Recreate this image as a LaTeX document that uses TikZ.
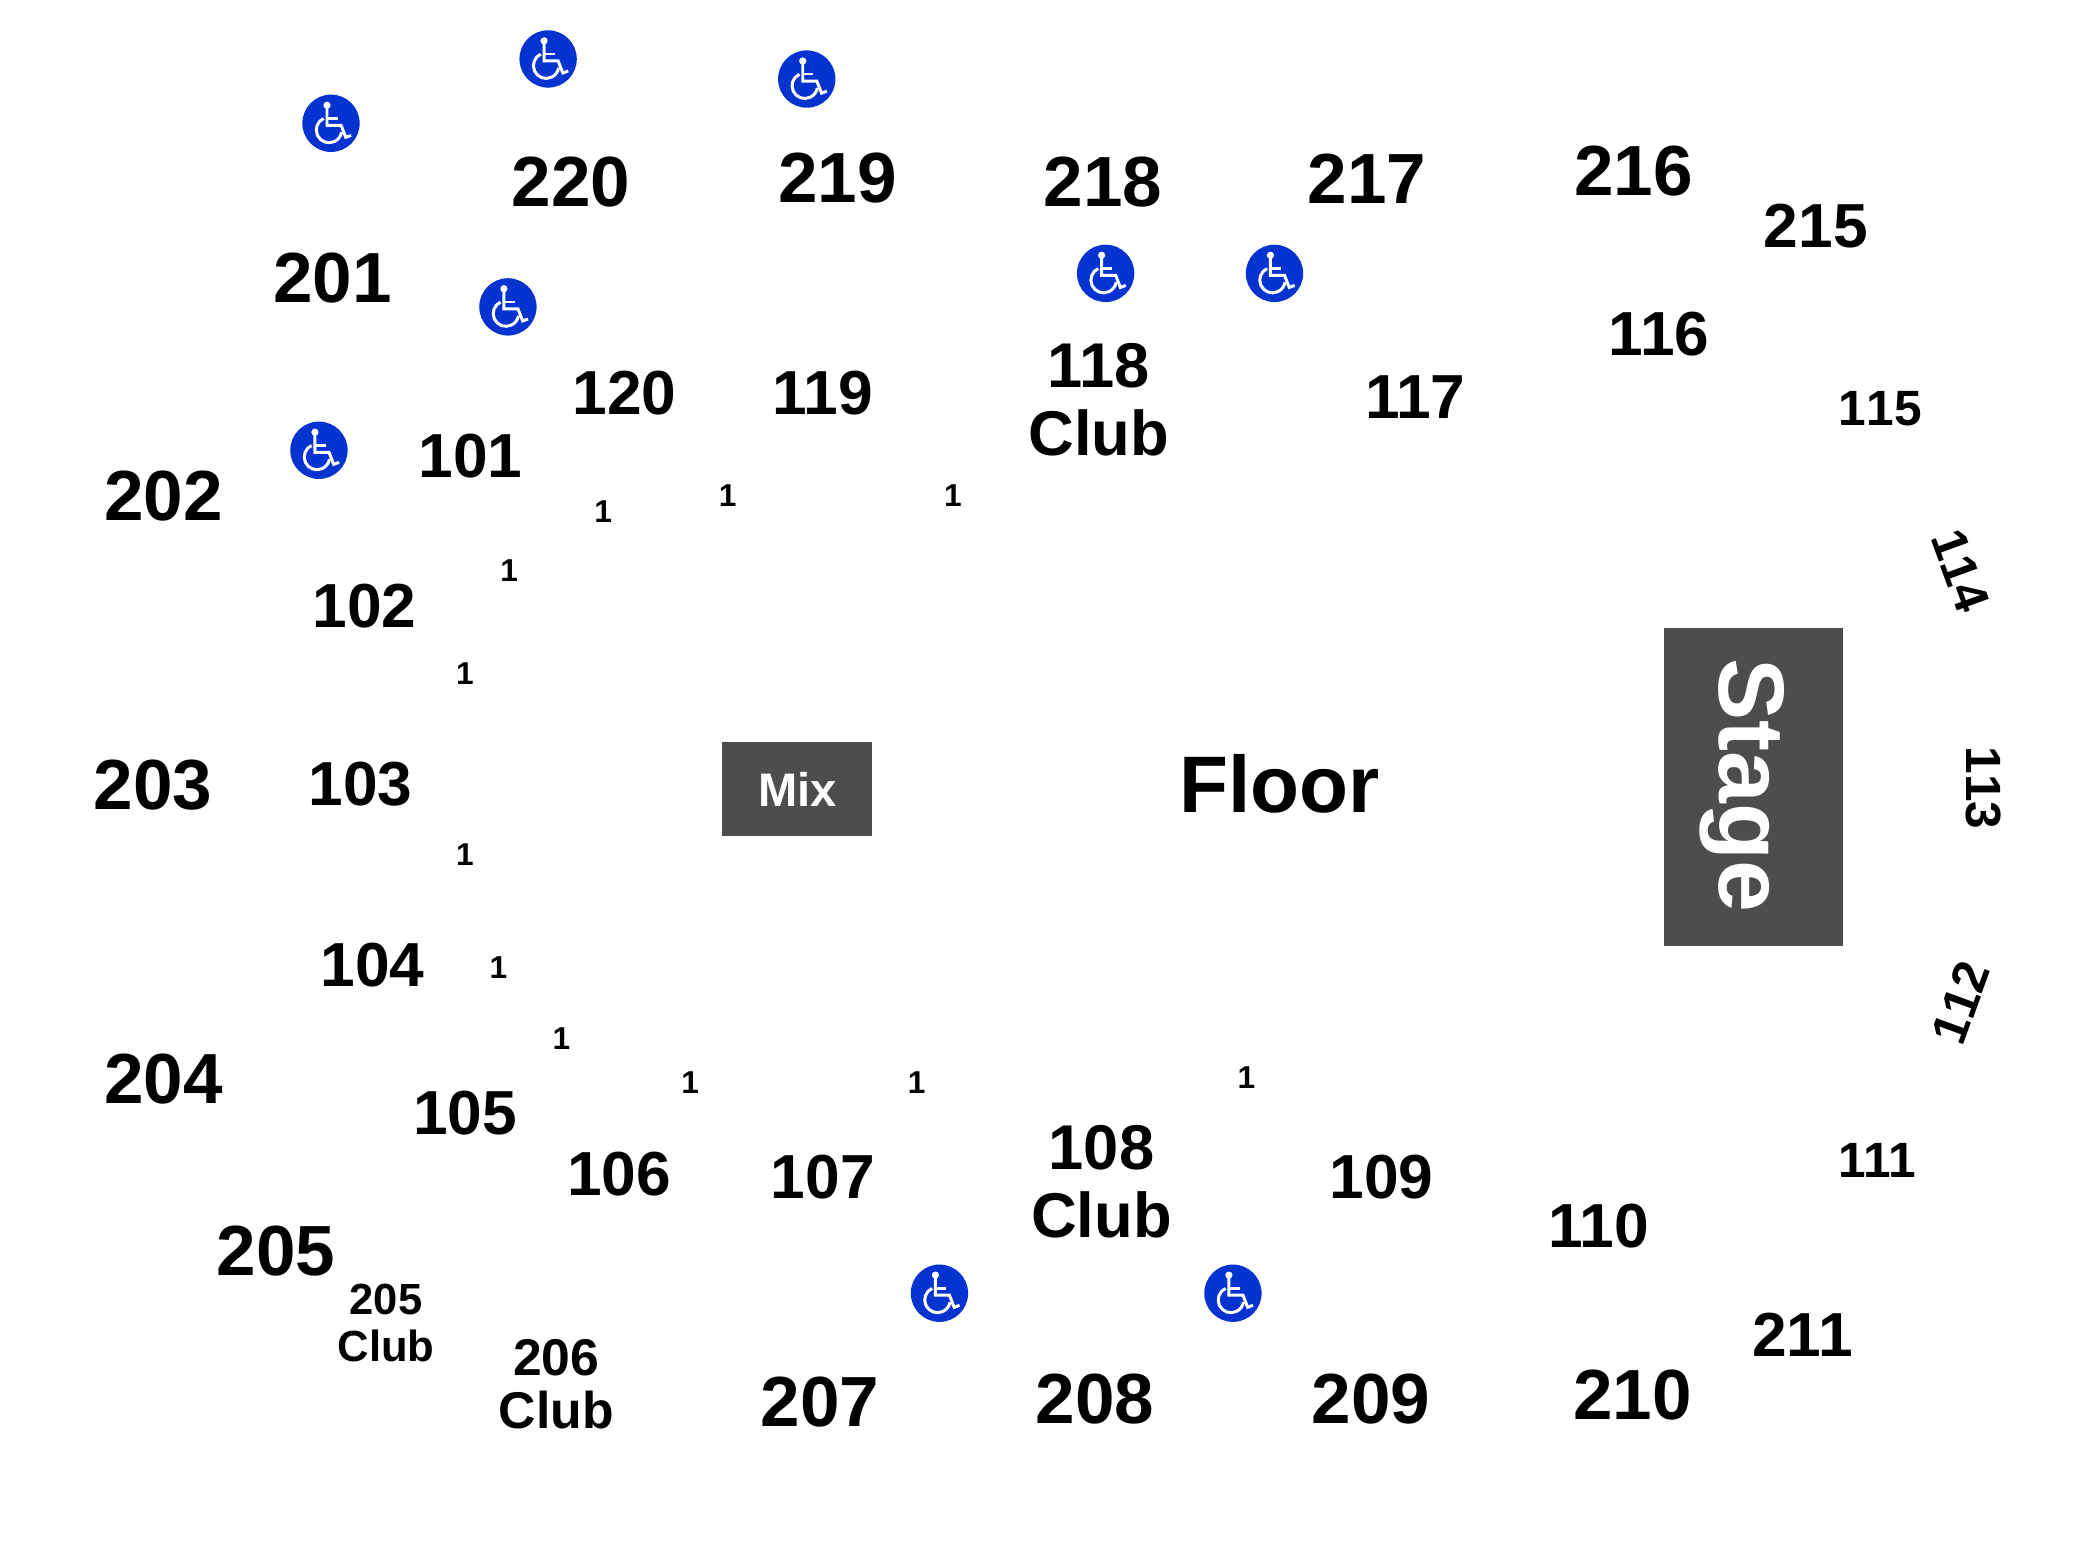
\documentclass[tikz,border=0pt]{standalone}
\usepackage{fontspec}
\setmainfont{Liberation Sans}
\newfontfamily\openfont[Kerning=Off]{Liberation Sans}
\definecolor{accessblue}{HTML}{0433CF}
\definecolor{boxgrey}{HTML}{4D4D4D}
\tikzset{
	access/.pic={
		\fill[accessblue] (0,0) circle (21.4);
		\fill[white] (-3,-13.5) circle (2.7);
		\draw[white,line width=.85pt] (-3,-13.5) -- (-3,1.5) -- (7.5,1.5) -- (11,10.5) -- (15,9);
		\draw[white,line width=.7pt] (-3,-3.7) -- (5,-3.7);
		\draw[white,line width=.85pt] (-5.5,-3.6) arc[start angle=-115,end angle=-350,radius=9.5];
	}
}
\begin{document}
\begin{tikzpicture}[x=0.0134cm,y=-0.0134cm]
	\useasboundingbox (0,0) rectangle (1567,1155.2);
	\tikzstyle{every node}=[inner sep=0,font=\bfseries,align=center]
	\tikzstyle{upper}=[font=\bfseries\fontsize{20.2}{24}\selectfont]
	\tikzstyle{lower}=[font=\bfseries\fontsize{17.7}{19.4}\selectfont]
	\tikzstyle{narrow}=[font=\openfont\bfseries\fontsize{14.1}{16}\selectfont]
	\tikzstyle{tiny}=[font=\bfseries\fontsize{9}{11}\selectfont]
	\node[upper] (s220) at (426,136) {220};
	\node[upper] (s219) at (625,133) {219};
	\node[upper] (s218) at (823,135.5) {218};
	\node[upper] (s217) at (1020,133.5) {217};
	\node[upper] (s216) at (1219,128) {216};
	\node[lower] (s215) at (1355,169) {215};
	\node[upper] (s201) at (248,207.5) {201};
	\node[upper] (s202) at (122,370) {202};
	\node[upper] (s203) at (114,586) {203};
	\node[upper] (s204) at (122,805) {204};
	\node[upper] (s205) at (206,933.5) {205};
	\node[upper] (s207) at (612,1046) {207};
	\node[upper] (s208) at (817,1044) {208};
	\node[upper] (s209) at (1023,1044) {209};
	\node[upper] (s210) at (1218,1041) {210};
	\node[lower] (s211) at (1345,996) {211};
	\node[font=\bfseries\fontsize{12.4}{13.4}\selectfont] (c205) at (288,987) {205\\Club};
	\node[font=\bfseries\fontsize{14.7}{14.9}\selectfont] (c206) at (415,1033) {206\\Club};
	\node[lower] (s120) at (466,293) {120};
	\node[lower] (s119) at (614,293) {119};
	\node[font=\bfseries\fontsize{18}{19.4}\selectfont] (c118) at (820,298) {118\\Club};
	\node[lower] (s117) at (1056,296) {117};
	\node[lower] (s116) at (1238,249) {116};
	\node[narrow] (s115) at (1403,305) {115};
	\node[narrow,rotate=-70] (s114) at (1463,426) {114};
	\node[narrow,rotate=-90] (s113) at (1480,588) {113};
	\node[narrow,rotate=70] (s112) at (1463,748) {112};
	\node[font=\bfseries\fontsize{14.1}{16}\selectfont] (s111) at (1401,866) {111};
	\node[lower] (s110) at (1193,915) {110};
	\node[lower] (s109) at (1031,878) {109};
	\node[font=\bfseries\fontsize{18}{19.4}\selectfont] (c108) at (822,882) {108\\Club};
	\node[lower] (s107) at (614,878) {107};
	\node[lower] (s106) at (462,876) {106};
	\node[lower] (s105) at (347,830.5) {105};
	\node[lower] (s104) at (278,720) {104};
	\node[lower] (s103) at (269,585) {103};
	\node[lower] (s102) at (272,452) {102};
	\node[lower] (s101) at (351,340) {101};
	\node[tiny] (r1) at (450,382) {1};
	\node[tiny] (r2) at (543,370) {1};
	\node[tiny] (r3) at (711,370) {1};
	\node[tiny] (r4) at (380,426) {1};
	\node[tiny] (r5) at (347,503) {1};
	\node[tiny] (r6) at (347,638) {1};
	\node[tiny] (r7) at (372,722) {1};
	\node[tiny] (r8) at (419,775) {1};
	\node[tiny] (r9) at (515,808) {1};
	\node[tiny] (r10) at (684,808) {1};
	\node[tiny] (r11) at (930,804) {1};
	\node[font=\bfseries\fontsize{13.4}{16}\selectfont,text=white,fill=boxgrey,minimum width=1.5cm,minimum height=.938cm] (mix) at (595,589) {Mix};
	\node[fill=boxgrey,minimum width=1.796cm,minimum height=3.176cm] (stage) at (1308.4,587.5) {};
	\node[font=\bfseries\fontsize{26.5}{30}\selectfont,text=white,rotate=-90] (stagetext) at (1300,586) {Stage};
	\node[font=\bfseries\fontsize{22.8}{26}\selectfont] (floor) at (955,585) {Floor};
	\pic (w1) at (247,92) {access};
	\pic (w2) at (409,44) {access};
	\pic (w3) at (602,59) {access};
	\pic (w4) at (825,204) {access};
	\pic (w5) at (951,204) {access};
	\pic (w6) at (379,229) {access};
	\pic (w7) at (238,336) {access};
	\pic (w8) at (701,965) {access};
	\pic (w9) at (920,965) {access};
\end{tikzpicture}
\end{document}
